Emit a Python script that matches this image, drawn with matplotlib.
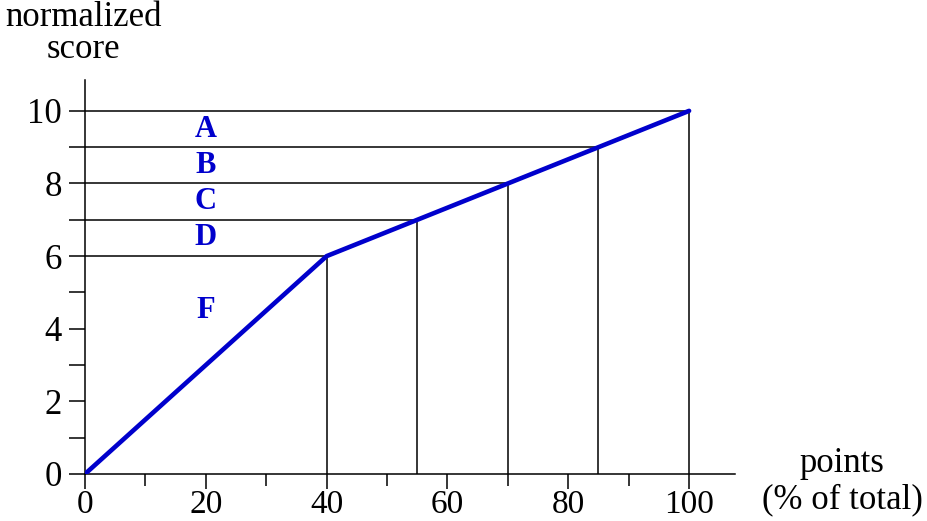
import numpy as np
import matplotlib
matplotlib.use('Agg')
import matplotlib.pyplot as plt
import matplotlib.ticker as ticker

plt.rcParams['font.family'] = ['Liberation Serif', 'DejaVu Serif']

# curve of normalized score vs points
curve_x = [0, 40, 100]
curve_y = [0, 6, 10]

# grade cutoffs: points and score
cut_x = [40, 55, 70, 85, 100]
cut_y = [6, 7, 8, 9, 10]

grades = ['A', 'B', 'C', 'D', 'F']
grade_y = [9.5, 8.5, 7.5, 6.5, 4.5]
grade_x = 20

blue = '#0000CC'
fs = 25

fig = plt.figure(figsize=(9.27, 5.21), dpi=100)
ax = fig.add_axes([85/927, 47/521, 650/927, 394/521])

ax.set_xlim(0, 107.6)
ax.set_ylim(0, 10.85)

# cutoff lines
for xc, yc in zip(cut_x, cut_y):
    ax.plot([0, xc], [yc, yc], color='black', lw=1.1, zorder=2)
    ax.plot([xc, xc], [0, yc], color='black', lw=1.1, zorder=2)

ax.plot(curve_x, curve_y, color=blue, lw=3.3, zorder=3, solid_capstyle='round')

for g, gy in zip(grades, grade_y):
    ax.text(grade_x, gy, g, color=blue, fontsize=22, fontweight='bold',
            ha='center', va='center')

for s in ['top', 'right']:
    ax.spines[s].set_visible(False)
for s in ['left', 'bottom']:
    ax.spines[s].set_linewidth(1.1)

ax.xaxis.set_major_locator(ticker.MultipleLocator(20))
ax.xaxis.set_minor_locator(ticker.MultipleLocator(10))
ax.yaxis.set_major_locator(ticker.MultipleLocator(2))
ax.yaxis.set_minor_locator(ticker.MultipleLocator(1))

ax.tick_params(axis='x', which='major', direction='out', length=11, width=1.1,
               labelsize=24, pad=0)
ax.tick_params(axis='x', which='minor', direction='out', length=8.5, width=1.1)
ax.tick_params(axis='y', which='both', direction='out', length=11.5, width=1.1,
               labelsize=fs, pad=5)

fig.text(83/927, 1 - 18/521, 'normalized', fontsize=fs, ha='center', va='center')
fig.text(83/927, 1 - 50/521, 'score', fontsize=fs, ha='center', va='center')
fig.text(842/927, 1 - 464/521, 'points', fontsize=fs, ha='center', va='center')
fig.text(842/927, 1 - 500/521, '(% of total)', fontsize=fs, ha='center', va='center')

fig.savefig('out.png', dpi=100)
